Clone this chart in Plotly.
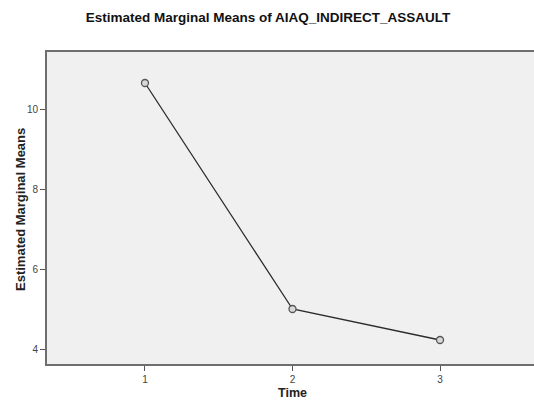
import plotly.graph_objects as go

time_points = [1, 2, 3]
means = [10.65, 5.0, 4.225]
x_tick_labels = ["1", "2", "3"]
y_tick_values = [4, 6, 8, 10]

W, H = 534, 402
L, R, T, B = 47, 0, 52, 38
plot_w = W - L - R
plot_h = H - T - B

fig = go.Figure()
fig.add_trace(go.Scatter(
    x=time_points, y=means, mode="lines+markers",
    line=dict(color="#2b2b2b", width=1.3),
    marker=dict(symbol="circle", size=7, color="#d8d8d8",
                line=dict(color="#555555", width=1.3)),
    showlegend=False, hoverinfo="x+y",
))

fig.update_layout(
    width=W, height=H,
    margin=dict(l=L, r=R, t=T, b=B),
    paper_bgcolor="white",
    plot_bgcolor="#f0f0f0",
    font=dict(family="Liberation Sans, Arial, sans-serif", color="#222"),
    title=dict(text="<b>Estimated Marginal Means of AIAQ_INDIRECT_ASSAULT</b>",
               x=(268 - L) / plot_w, xref="paper", xanchor="center",
               y=1 - 17 / H, yref="container", yanchor="middle",
               font=dict(size=13.5, color="#111")),
    xaxis=dict(range=[0.336, 3.637], tickvals=time_points, ticktext=x_tick_labels,
               showgrid=False, zeroline=False, showline=True, linecolor="#6e6e6e",
               linewidth=2, mirror=True, ticks="outside", ticklen=5, tickwidth=1,
               tickcolor="#555", tickfont=dict(size=10, color="#444")),
    yaxis=dict(range=[3.625, 11.425], tickvals=y_tick_values,
               showgrid=False, zeroline=False, showline=True, linecolor="#6e6e6e",
               linewidth=2, ticks="outside", ticklen=5, tickwidth=1,
               tickcolor="#555", tickfont=dict(size=10, color="#444")),
    annotations=[
        dict(text="<b>Estimated Marginal Means</b>", textangle=-90,
             xref="paper", x=(20 - L) / plot_w, yref="paper", y=(364 - 210) / plot_h,
             xanchor="center", yanchor="middle", showarrow=False,
             font=dict(size=13, color="#222")),
        dict(text="<b>Time</b>", xref="x", x=2, yref="paper",
             y=-(393 - (T + plot_h)) / plot_h, xanchor="center", yanchor="middle",
             showarrow=False, font=dict(size=12.5, color="#222")),
    ],
)

fig.write_html("out.html", config={"displayModeBar": False},
               post_script="document.body.style.margin='0';document.body.style.overflow='hidden';")
